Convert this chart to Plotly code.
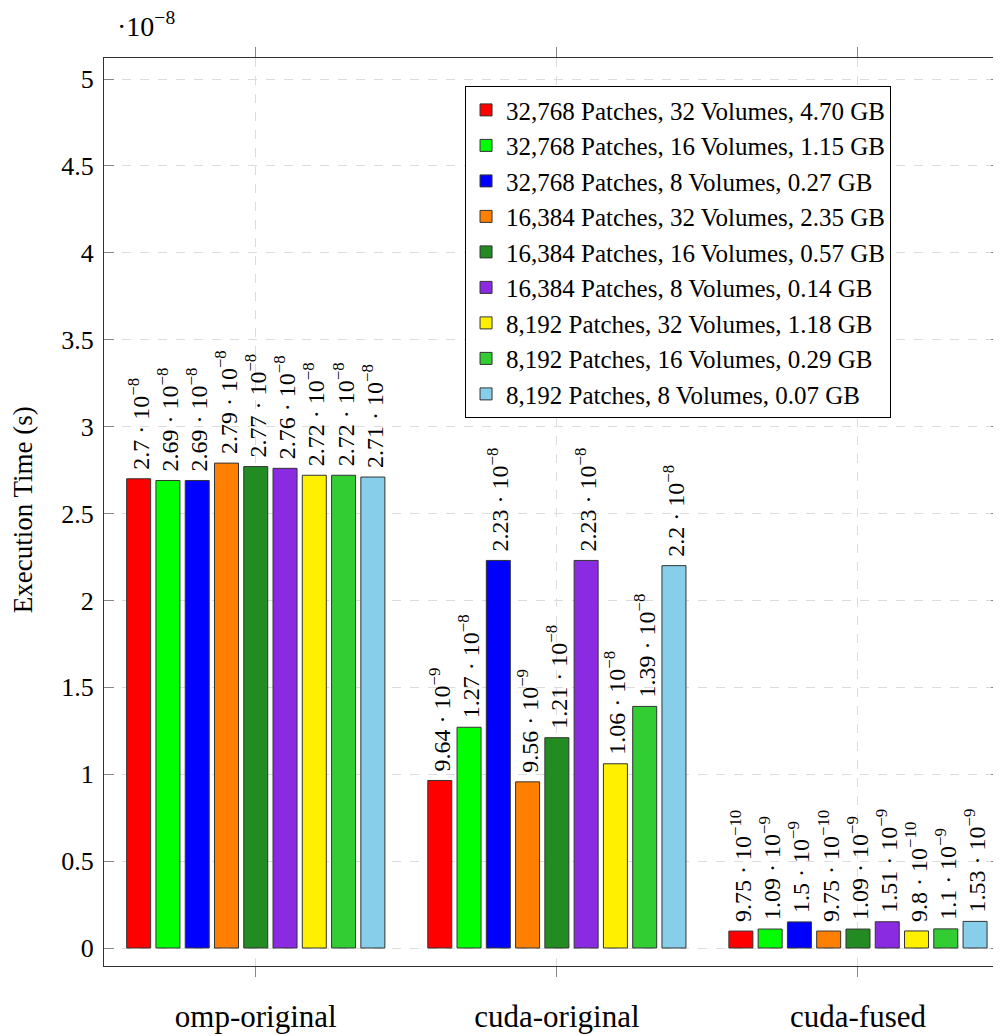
import math
import plotly.graph_objects as go

categories = ["omp-original", "cuda-original", "cuda-fused"]

series_names = [
    "32,768 Patches, 32 Volumes, 4.70 GB",
    "32,768 Patches, 16 Volumes, 1.15 GB",
    "32,768 Patches, 8 Volumes, 0.27 GB",
    "16,384 Patches, 32 Volumes, 2.35 GB",
    "16,384 Patches, 16 Volumes, 0.57 GB",
    "16,384 Patches, 8 Volumes, 0.14 GB",
    "8,192 Patches, 32 Volumes, 1.18 GB",
    "8,192 Patches, 16 Volumes, 0.29 GB",
    "8,192 Patches, 8 Volumes, 0.07 GB",
]

# execution time in seconds: [omp-original, cuda-original, cuda-fused]
s_32768_32 = [2.70e-8, 9.64e-9, 9.75e-10]
s_32768_16 = [2.69e-8, 1.27e-8, 1.09e-9]
s_32768_8 = [2.69e-8, 2.23e-8, 1.50e-9]
s_16384_32 = [2.79e-8, 9.56e-9, 9.75e-10]
s_16384_16 = [2.77e-8, 1.21e-8, 1.09e-9]
s_16384_8 = [2.76e-8, 2.23e-8, 1.51e-9]
s_8192_32 = [2.72e-8, 1.06e-8, 9.80e-10]
s_8192_16 = [2.72e-8, 1.39e-8, 1.10e-9]
s_8192_8 = [2.71e-8, 2.20e-8, 1.53e-9]

series_values = [s_32768_32, s_32768_16, s_32768_8, s_16384_32, s_16384_16,
                 s_16384_8, s_8192_32, s_8192_16, s_8192_8]

colors = ["#FF0000", "#00FF00", "#0000FF", "#FF8000", "#228B22",
          "#8A2BE2", "#FFF000", "#32CD32", "#87CEEB"]

y_ticks = [0, 0.5, 1, 1.5, 2, 2.5, 3, 3.5, 4, 4.5, 5]
SCALE = 1e8  # axis shows values in units of 10^-8

FONT = "Liberation Serif"


def sci_label(v):
    e = math.floor(math.log10(v))
    m = round(v / 10 ** e, 2)
    ms = ("%.2f" % m).rstrip("0").rstrip(".")
    # leading non-breaking space gives the gap between bar top and label
    return "\u00a0%s · 10<sup>−%d</sup>" % (ms, -e)


x_idx = list(range(len(categories)))

fig = go.Figure()
for name, vals, col in zip(series_names, series_values, colors):
    fig.add_trace(go.Bar(
        x=x_idx,
        y=[v * SCALE for v in vals],
        name=name,
        marker=dict(color=col, line=dict(color="#333333", width=1)),
        text=[sci_label(v) for v in vals],
        textposition="outside",
        textangle=-90,
        constraintext="none",
        cliponaxis=False,
        textfont=dict(family=FONT, size=24, color="black"),
        legendgroup=name,
    ))

# body margin of the html page offsets the figure by 8px
fig.update_layout(
    width=993, height=1028,
    margin=dict(l=96, r=0, t=50, b=70),
    paper_bgcolor="white", plot_bgcolor="white",
    barmode="group", bargap=0.125, bargroupgap=0.18,
    font=dict(family=FONT, size=26, color="black"),
    showlegend=True,
    legend=dict(
        x=0.4025, y=0.969, xanchor="left", yanchor="top",
        bgcolor="white", bordercolor="black", borderwidth=1,
        font=dict(family=FONT, size=25),
        tracegroupgap=0, traceorder="normal",
    ),
    xaxis=dict(
        range=[-0.504, 2.475],
        tickmode="array", tickvals=x_idx, ticktext=categories,
        ticks="outside", ticklen=10, tickcolor="#888888",
        showgrid=True, gridcolor="#dcdcdc", griddash="dash",
        showline=True, linecolor="#333333", linewidth=1, mirror="ticks",
        tickfont=dict(family=FONT, size=31),
        ticklabelstandoff=13,
        zeroline=False,
    ),
    yaxis=dict(
        range=[-0.1036, 5.121],
        tickmode="array", tickvals=y_ticks,
        ticktext=[("%g" % t) for t in y_ticks],
        ticks="inside", ticklen=10, tickcolor="#888888",
        showgrid=True, gridcolor="#dcdcdc", griddash="dash",
        showline=True, linecolor="#333333", linewidth=1, mirror="ticks",
        tickfont=dict(family=FONT, size=26),
        ticklabelstandoff=4,
        zeroline=False,
    ),
    annotations=[
        dict(text="Execution Time (s)", textangle=-90, xref="paper", yref="paper",
             x=-0.0903, y=0.502, xanchor="center", yanchor="middle",
             showarrow=False, font=dict(family=FONT, size=27)),
        dict(text="·10<sup>−8</sup>", xref="paper", yref="paper",
             x=0.012, y=1.037, xanchor="left", yanchor="middle",
             showarrow=False, font=dict(family=FONT, size=28)),
    ],
)

fig.write_html("out.html")
